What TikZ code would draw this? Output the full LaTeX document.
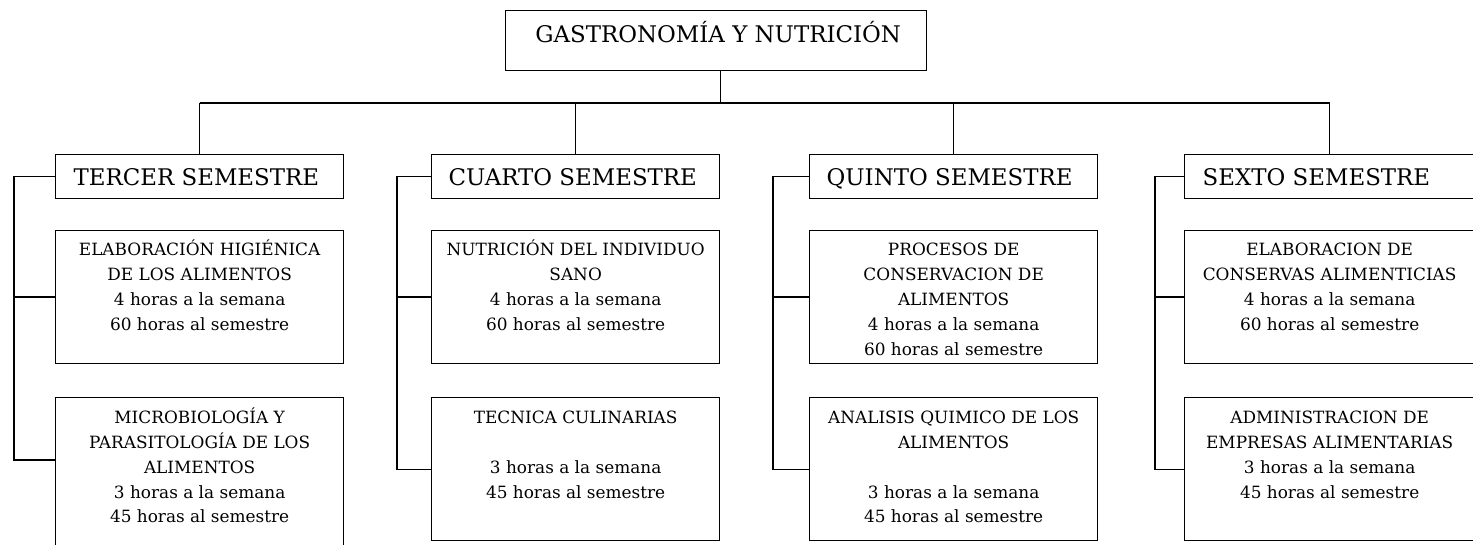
\documentclass[tikz,border=0pt]{standalone}
\usepackage{fontspec}
\setmainfont{DejaVu Serif}
\begin{document}
\begin{tikzpicture}[x=1pt,y=-1pt, line width=1.3pt,
  box/.style={draw, rectangle, inner sep=0pt, anchor=north west},
  hbox/.style={box, minimum width=288pt, minimum height=44pt},
  sbox/.style={box, minimum width=288pt, minimum height=#1},
  subtxt/.style={anchor=base, inner sep=0pt, font=\fontsize{16.9}{25}\selectfont},
  headtxt/.style={anchor=base west, inner sep=0pt, font=\fontsize{22.9}{28}\selectfont},
  titletxt/.style={anchor=base, inner sep=0pt, font=\fontsize{22.9}{28}\selectfont},
]
\useasboundingbox (0,0) rectangle (1473,545);
\clip (0,0) rectangle (1473,545);

% title
\node[box, minimum width=421pt, minimum height=60pt] (top) at (505,10) {};
\node[titletxt] (toptxt) at ([xshift=2pt,yshift=-33pt]top.north) {GASTRONOMÍA Y NUTRICIÓN};

% headers
\node[hbox] (h1) at (55,154) {};
\node[hbox] (h2) at (431,154) {};
\node[hbox] (h3) at (809,154) {};
\node[hbox, minimum width=290pt] (h4) at (1184,154) {};
\node[headtxt] (h1txt) at ([xshift=18pt,yshift=-32pt]h1.north west) {TERCER SEMESTRE};
\node[headtxt] (h2txt) at ([xshift=17pt,yshift=-32pt]h2.north west) {CUARTO SEMESTRE};
\node[headtxt] (h3txt) at ([xshift=17pt,yshift=-32pt]h3.north west) {QUINTO SEMESTRE};
\node[headtxt] (h4txt) at ([xshift=18pt,yshift=-32pt]h4.north west) {SEXTO SEMESTRE};

% subject boxes
\node[sbox=133pt] (a1) at (55,230) {};
\node[sbox=170pt] (a2) at (55,397) {};
\node[sbox=133pt] (b1) at (431,230) {};
\node[sbox=143pt] (b2) at (431,397) {};
\node[sbox=133pt] (c1) at (809,230) {};
\node[sbox=143pt] (c2) at (809,397) {};
\node[sbox=133pt, minimum width=290pt] (d1) at (1184,230) {};
\node[sbox=143pt, minimum width=290pt] (d2) at (1184,397) {};

\node[subtxt] (a1txt) at ([yshift=-26pt]a1.north) {\begin{tabular}[t]{@{}c@{}}ELABORACIÓN HIGIÉNICA\\DE LOS ALIMENTOS\\4 horas a la semana\\60 horas al semestre\end{tabular}};
\node[subtxt] (a2txt) at ([yshift=-26pt]a2.north) {\begin{tabular}[t]{@{}c@{}}MICROBIOLOGÍA Y\\PARASITOLOGÍA DE LOS\\ALIMENTOS\\3 horas a la semana\\45 horas al semestre\end{tabular}};
\node[subtxt] (b1txt) at ([yshift=-26pt]b1.north) {\begin{tabular}[t]{@{}c@{}}NUTRICIÓN DEL INDIVIDUO\\SANO\\4 horas a la semana\\60 horas al semestre\end{tabular}};
\node[subtxt] (b2txt) at ([yshift=-26pt]b2.north) {\begin{tabular}[t]{@{}c@{}}TECNICA CULINARIAS\\ \\3 horas a la semana\\45 horas al semestre\end{tabular}};
\node[subtxt] (c1txt) at ([yshift=-26pt]c1.north) {\begin{tabular}[t]{@{}c@{}}PROCESOS DE\\CONSERVACION DE\\ALIMENTOS\\4 horas a la semana\\60 horas al semestre\end{tabular}};
\node[subtxt] (c2txt) at ([yshift=-26pt]c2.north) {\begin{tabular}[t]{@{}c@{}}ANALISIS QUIMICO DE LOS\\ALIMENTOS\\ \\3 horas a la semana\\45 horas al semestre\end{tabular}};
\node[subtxt] (d1txt) at ([yshift=-26pt]d1.north) {\begin{tabular}[t]{@{}c@{}}ELABORACION DE\\CONSERVAS ALIMENTICIAS\\4 horas a la semana\\60 horas al semestre\end{tabular}};
\node[subtxt] (d2txt) at ([yshift=-26pt]d2.north) {\begin{tabular}[t]{@{}c@{}}ADMINISTRACION DE\\EMPRESAS ALIMENTARIAS\\3 horas a la semana\\45 horas al semestre\end{tabular}};

% tree connectors
\coordinate (bus) at (0,103);
\draw ([xshift=4.5pt]top.south) -- ([xshift=4.5pt]top.south |- bus);
\draw (h1.north |- bus) -- (h4.north |- bus);
\foreach \h in {h1,h2,h3,h4} \draw (\h.north) -- (\h.north |- bus);

% brackets
\coordinate (k1) at (14,0);
\coordinate (k2) at (397,0);
\coordinate (k3) at (773,0);
\coordinate (k4) at (1155,0);
\draw (h1.west) -- (h1.west -| k1) |- ([yshift=-63pt]a2.north west);
\draw (a1.west) -- (a1.west -| k1);
\draw (h2.west) -- (h2.west -| k2) |- (b2.west);
\draw (b1.west) -- (b1.west -| k2);
\draw (h3.west) -- (h3.west -| k3) |- (c2.west);
\draw (c1.west) -- (c1.west -| k3);
\draw (h4.west) -- (h4.west -| k4) |- (d2.west);
\draw (d1.west) -- (d1.west -| k4);
\end{tikzpicture}
\end{document}
